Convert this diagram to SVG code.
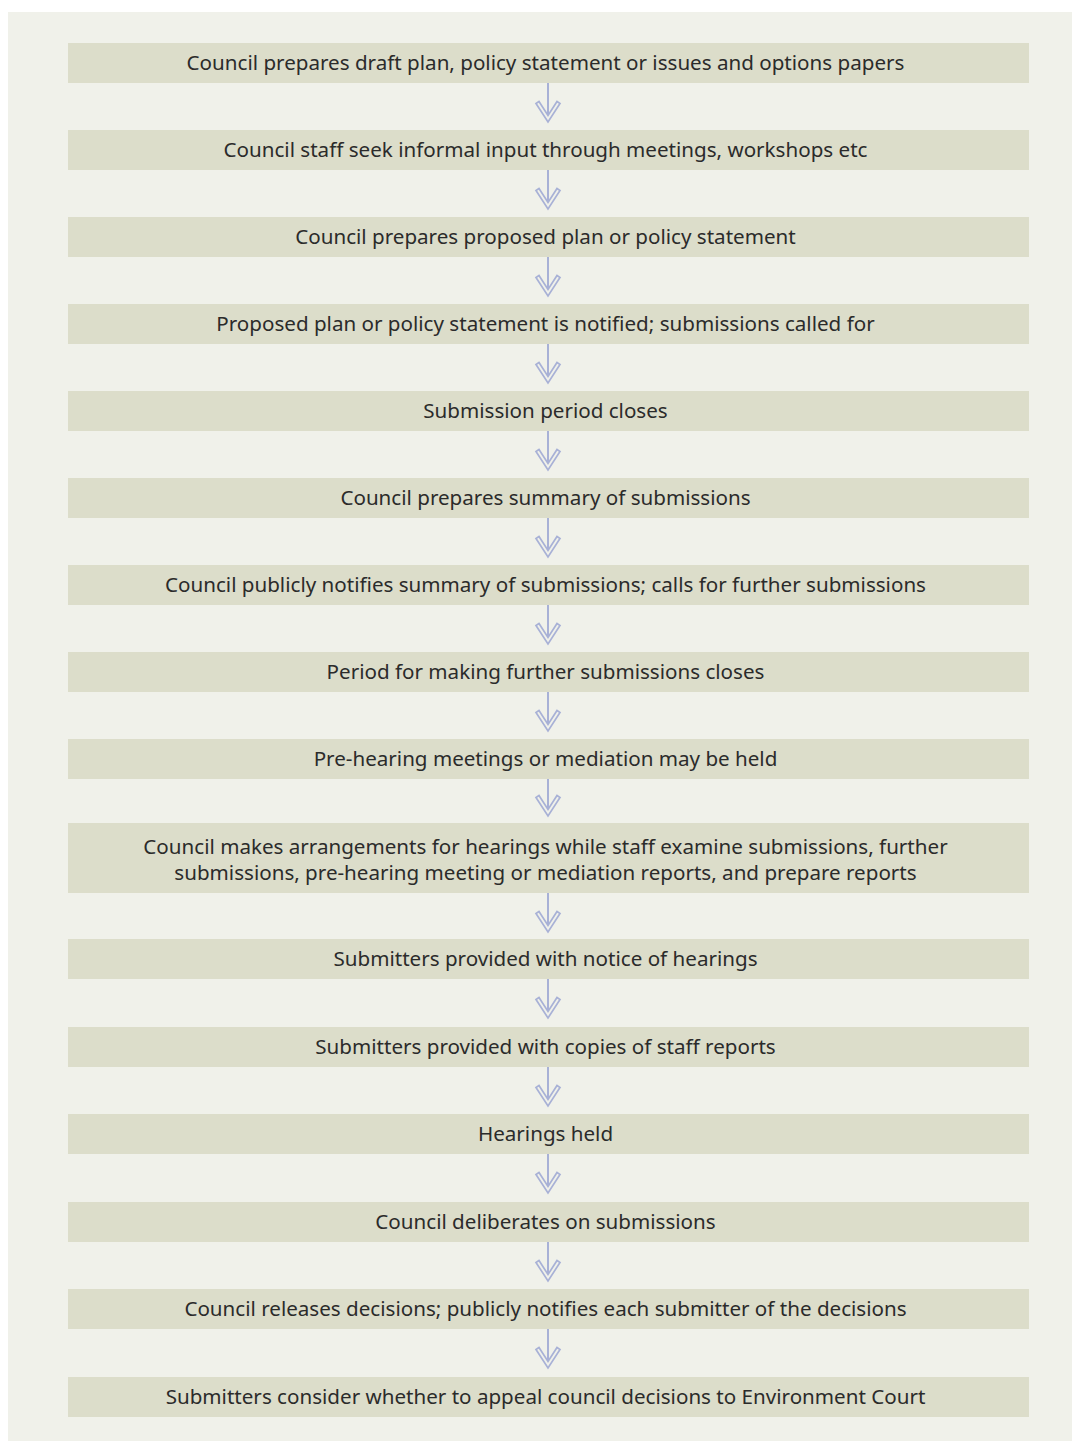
<svg xmlns="http://www.w3.org/2000/svg" width="1072" height="1443" viewBox="0 0 1072 1443">
<defs>
<style>
.bg{fill:#f0f1ea}
.box{fill:#dcddca}
.t{font-family:"Noto Sans","Open Sans",sans-serif;font-size:20.6px;fill:#2b2b2b;text-anchor:middle}
.ln{stroke:#a8b1d6;stroke-width:2;fill:none}
.hd{stroke:#a8b1d6;stroke-width:1.7;fill:#f0f1ea;stroke-linejoin:miter}
</style>
<g id="arrow">
<line class="ln" x1="0" y1="0" x2="0" y2="32"/>
<path class="hd" d="M-12,20.5 L0,39 L12,20.5 L9,18.5 L0,32.5 L-9,18.5 Z"/>
</g>
</defs>
<rect class="bg" x="8" y="12" width="1064" height="1429"/>
<g id="connectors">
<use href="#arrow" x="548" y="83"/>
<use href="#arrow" x="548" y="170"/>
<use href="#arrow" x="548" y="257"/>
<use href="#arrow" x="548" y="344"/>
<use href="#arrow" x="548" y="431"/>
<use href="#arrow" x="548" y="518"/>
<use href="#arrow" x="548" y="605"/>
<use href="#arrow" x="548" y="692"/>
<use href="#arrow" x="548" y="777"/>
<use href="#arrow" x="548" y="893"/>
<use href="#arrow" x="548" y="979"/>
<use href="#arrow" x="548" y="1067"/>
<use href="#arrow" x="548" y="1154"/>
<use href="#arrow" x="548" y="1242"/>
<use href="#arrow" x="548" y="1329"/>
</g>
<g id="n1"><rect class="box" x="68" y="43" width="961" height="40"/><text class="t" x="545.5" y="69.5">Council prepares draft plan, policy statement or issues and options papers</text></g>
<g id="n2"><rect class="box" x="68" y="130" width="961" height="40"/><text class="t" x="545.5" y="156.5">Council staff seek informal input through meetings, workshops etc</text></g>
<g id="n3"><rect class="box" x="68" y="217" width="961" height="40"/><text class="t" x="545.5" y="243.5">Council prepares proposed plan or policy statement</text></g>
<g id="n4"><rect class="box" x="68" y="304" width="961" height="40"/><text class="t" x="545.5" y="330.5">Proposed plan or policy statement is notified; submissions called for</text></g>
<g id="n5"><rect class="box" x="68" y="391" width="961" height="40"/><text class="t" x="545.5" y="417.5">Submission period closes</text></g>
<g id="n6"><rect class="box" x="68" y="478" width="961" height="40"/><text class="t" x="545.5" y="504.5">Council prepares summary of submissions</text></g>
<g id="n7"><rect class="box" x="68" y="565" width="961" height="40"/><text class="t" x="545.5" y="591.5">Council publicly notifies summary of submissions; calls for further submissions</text></g>
<g id="n8"><rect class="box" x="68" y="652" width="961" height="40"/><text class="t" x="545.5" y="678.5">Period for making further submissions closes</text></g>
<g id="n9"><rect class="box" x="68" y="739" width="961" height="40"/><text class="t" x="545.5" y="765.5">Pre-hearing meetings or mediation may be held</text></g>
<g id="n10"><rect class="box" x="68" y="823" width="961" height="70"/><text class="t" x="545.5" y="854">Council makes arrangements for hearings while staff examine submissions, further</text><text class="t" x="545.5" y="880">submissions, pre-hearing meeting or mediation reports, and prepare reports</text></g>
<g id="n11"><rect class="box" x="68" y="939" width="961" height="40"/><text class="t" x="545.5" y="965.5">Submitters provided with notice of hearings</text></g>
<g id="n12"><rect class="box" x="68" y="1027" width="961" height="40"/><text class="t" x="545.5" y="1053.5">Submitters provided with copies of staff reports</text></g>
<g id="n13"><rect class="box" x="68" y="1114" width="961" height="40"/><text class="t" x="545.5" y="1140.5">Hearings held</text></g>
<g id="n14"><rect class="box" x="68" y="1202" width="961" height="40"/><text class="t" x="545.5" y="1228.5">Council deliberates on submissions</text></g>
<g id="n15"><rect class="box" x="68" y="1289" width="961" height="40"/><text class="t" x="545.5" y="1315.5">Council releases decisions; publicly notifies each submitter of the decisions</text></g>
<g id="n16"><rect class="box" x="68" y="1377" width="961" height="40"/><text class="t" x="545.5" y="1403.5">Submitters consider whether to appeal council decisions to Environment Court</text></g>
</svg>
